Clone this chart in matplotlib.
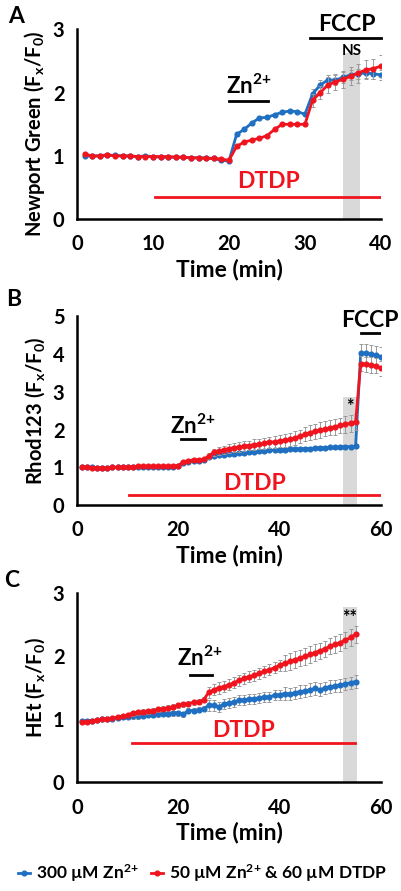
import matplotlib
matplotlib.use("Agg")
import matplotlib.pyplot as plt

plt.rcParams['font.family'] = ['Lato', 'DejaVu Sans']
plt.rcParams['font.weight'] = 'bold'
plt.rcParams['mathtext.fontset'] = 'custom'
plt.rcParams['mathtext.rm'] = 'Lato:bold'
plt.rcParams['mathtext.it'] = 'Lato:bold'
plt.rcParams['mathtext.bf'] = 'Lato:bold'

BLUE = '#1f6fc2'
RED = '#f0141e'
ERR = '#9a9a9a'
ZN = "Zn$^{2{+}}$"

# Panel A - Newport Green
t_a = list(range(1, 41))
blue_a = [1.0, 1.0, 1.0, 1.01, 1.01, 1.0, 1.0, 0.99, 1.0, 0.99, 0.98, 0.98, 0.98, 0.98, 0.97,
          0.97, 0.97, 0.96, 0.93, 0.92, 1.34, 1.42, 1.52, 1.6, 1.61, 1.65, 1.69, 1.71, 1.7, 1.66,
          1.98, 2.12, 2.2, 2.2, 2.24, 2.28, 2.3, 2.31, 2.3, 2.28]
red_a = [1.03, 1.0, 1.0, 1.02, 1.0, 1.0, 1.0, 0.99, 0.99, 0.99, 0.99, 0.99, 0.98, 0.98, 0.97,
         0.97, 0.96, 0.96, 0.95, 0.93, 1.15, 1.22, 1.25, 1.28, 1.32, 1.42, 1.5, 1.5, 1.5, 1.5,
         1.88, 2.0, 2.12, 2.17, 2.21, 2.26, 2.31, 2.36, 2.38, 2.42]
blue_a_err = [0.02] * 30 + [0.08, 0.08, 0.08, 0.08, 0.08, 0.08, 0.08, 0.08, 0.08, 0.08]
red_a_err = [0.02] * 30 + [0.1, 0.1, 0.12, 0.12, 0.13, 0.14, 0.15, 0.15, 0.16, 0.18]

# Panel B - Rhod123
t_b = list(range(1, 61))
blue_b = [1.0, 1.0, 1.0, 0.99, 0.98, 0.98, 1.0, 1.0, 1.0, 1.0, 1.0, 1.01, 1.01, 1.01, 1.01,
          1.01, 1.02, 1.02, 1.02, 1.03, 1.12, 1.15, 1.17, 1.18, 1.2, 1.28, 1.3, 1.32, 1.34, 1.35,
          1.36, 1.38, 1.39, 1.4, 1.42, 1.43, 1.44, 1.45, 1.46, 1.47, 1.47, 1.48, 1.48, 1.49, 1.5,
          1.5, 1.51, 1.52, 1.52, 1.53, 1.53, 1.54, 1.55, 1.55, 1.56, 4.03, 4.02, 4.0, 3.97, 3.93]
red_b = [1.0, 1.0, 0.99, 0.99, 0.98, 0.98, 1.01, 1.0, 1.0, 1.0, 1.02, 1.03, 1.03, 1.03, 1.03,
         1.03, 1.03, 1.03, 1.04, 1.05, 1.15, 1.18, 1.2, 1.2, 1.21, 1.3, 1.4, 1.43, 1.47, 1.5,
         1.52, 1.54, 1.56, 1.58, 1.6, 1.62, 1.64, 1.66, 1.68, 1.7, 1.72, 1.74, 1.78, 1.82, 1.88,
         1.92, 1.96, 1.99, 2.02, 2.05, 2.08, 2.11, 2.14, 2.17, 2.2, 3.75, 3.73, 3.71, 3.69, 3.63]
blue_b_err = [0.02] * 25 + [0.05] * 30 + [0.25, 0.25, 0.25, 0.25, 0.25]
red_b_err = [0.02] * 25 + [0.08, 0.1, 0.1, 0.11, 0.11, 0.12, 0.12, 0.13, 0.13, 0.14, 0.14, 0.15,
                           0.15, 0.16, 0.16, 0.17, 0.17, 0.18, 0.18, 0.19, 0.19, 0.2, 0.2, 0.2,
                           0.2, 0.21, 0.21, 0.22, 0.22, 0.22, 0.2, 0.2, 0.2, 0.2, 0.2]

# Panel C - HEt
t_c = list(range(1, 56))
blue_c = [0.97, 0.98, 0.98, 0.99, 1.0, 1.0, 1.01, 1.02, 1.03, 1.04, 1.05, 1.05, 1.06, 1.07, 1.07,
          1.08, 1.09, 1.09, 1.1, 1.1, 1.08, 1.14, 1.14, 1.15, 1.17, 1.22, 1.22, 1.2, 1.24, 1.26,
          1.28, 1.3, 1.31, 1.32, 1.33, 1.34, 1.35, 1.36, 1.38, 1.39, 1.41, 1.4, 1.42, 1.44, 1.45,
          1.47, 1.49, 1.47, 1.5, 1.52, 1.53, 1.54, 1.56, 1.58, 1.6]
red_c = [0.95, 0.96, 0.97, 0.99, 1.0, 1.01, 1.02, 1.04, 1.05, 1.07, 1.1, 1.11, 1.12, 1.13, 1.14,
         1.16, 1.17, 1.18, 1.2, 1.22, 1.24, 1.25, 1.27, 1.28, 1.31, 1.43, 1.47, 1.5, 1.52, 1.55,
         1.58, 1.62, 1.65, 1.68, 1.7, 1.73, 1.76, 1.79, 1.82, 1.86, 1.89, 1.92, 1.95, 1.97, 2.0,
         2.03, 2.06, 2.09, 2.12, 2.16, 2.19, 2.22, 2.26, 2.3, 2.35]
blue_c_err = [0.02] * 10 + [0.04] * 15 + [0.08] * 15 + [0.1] * 15
red_c_err = [0.02] * 10 + [0.04] * 15 + [0.09] * 15 + [0.13] * 15


def draw_panel(ax, t, blue, red, berr, rerr, ylabel, ylab_y=0.5):
    ax.errorbar(t, blue, yerr=berr, color=BLUE, ecolor=ERR, elinewidth=0.7, capsize=1.2,
                capthick=0.7, lw=2, marker='o', ms=3.4, zorder=3)
    ax.errorbar(t, red, yerr=rerr, color=RED, ecolor=ERR, elinewidth=0.7, capsize=1.2,
                capthick=0.7, lw=2, marker='o', ms=3.4, zorder=4)
    for s in ['top', 'right']:
        ax.spines[s].set_visible(False)
    for s in ['left', 'bottom']:
        ax.spines[s].set_linewidth(1.8)
    ax.tick_params(axis='both', length=0, labelsize=14.5)
    ax.tick_params(axis='x', pad=11)
    ax.tick_params(axis='y', pad=9)
    ax.set_xlabel("Time (min)", fontsize=16.5, fontweight='bold', labelpad=3)
    ax.set_ylabel(ylabel, fontsize=14.5, fontweight='bold')
    ax.yaxis.set_label_coords(-0.098, ylab_y)


fig = plt.figure(figsize=(4.01, 8.91), dpi=100)

# A
ax1 = fig.add_axes([0.192, 0.754, 0.758, 0.213])
ax1.axvspan(35, 37.3, ymin=0, ymax=2.62 / 3, color='#d9d9d9', lw=0, zorder=0)
draw_panel(ax1, t_a, blue_a, red_a, blue_a_err, red_a_err,
           "Newport Green (F$_x$/F$_0$)", 0.45)
ax1.set_xlim(0, 40)
ax1.set_ylim(0, 3)
ax1.set_xticks([0, 10, 20, 30, 40])
ax1.set_yticks([0, 1, 2, 3])
ax1.plot([30.6, 40], [2.87, 2.87], color='black', lw=2, clip_on=False)
ax1.text(35.5, 3.08, "FCCP", ha='center', va='center', fontsize=16.5)
ax1.text(36.1, 2.66, "NS", ha='center', va='center', fontsize=11)
ax1.plot([20, 25.1], [1.87, 1.87], color='black', lw=2)
ax1.text(22.6, 2.1, ZN, ha='center', va='center', fontsize=16)
ax1.plot([10.3, 40], [0.35, 0.35], color=RED, lw=2)
ax1.text(25.2, 0.6, "DTDP", ha='center', va='center', fontsize=16.5, color=RED)
fig.text(0.04, 0.981, "A", fontsize=16.5, ha='center', va='center')

# B
ax2 = fig.add_axes([0.192, 0.433, 0.758, 0.212])
ax2.axvspan(52.6, 55.2, ymin=0, ymax=2.87 / 5, color='#d9d9d9', lw=0, zorder=0)
draw_panel(ax2, t_b, blue_b, red_b, blue_b_err, red_b_err, "Rhod123 (F$_x$/F$_0$)")
ax2.set_xlim(0, 60)
ax2.set_ylim(0, 5)
ax2.set_xticks([0, 20, 40, 60])
ax2.set_yticks([0, 1, 2, 3, 4, 5])
ax2.plot([56, 60], [4.56, 4.56], color='black', lw=2)
ax2.text(57.8, 4.88, "FCCP", ha='center', va='center', fontsize=16.5)
ax2.text(53.9, 2.6, "*", ha='center', va='center', fontsize=13)
ax2.plot([20.6, 25.2], [1.74, 1.74], color='black', lw=2)
ax2.text(22.9, 2.1, ZN, ha='center', va='center', fontsize=16)
ax2.plot([10.3, 60], [0.27, 0.27], color=RED, lw=2)
ax2.text(35.1, 0.57, "DTDP", ha='center', va='center', fontsize=16.5, color=RED)
fig.text(0.033, 0.664, "B", fontsize=16.5, ha='center', va='center')

# C
ax3 = fig.add_axes([0.192, 0.122, 0.758, 0.212])
ax3.axvspan(52.6, 55.2, ymin=0, ymax=2.79 / 3, color='#d9d9d9', lw=0, zorder=0)
draw_panel(ax3, t_c, blue_c, red_c, blue_c_err, red_c_err, "HEt (F$_x$/F$_0$)")
ax3.set_xlim(0, 60)
ax3.set_ylim(0, 3)
ax3.set_xticks([0, 20, 40, 60])
ax3.set_yticks([0, 1, 2, 3])
ax3.text(53.9, 2.62, "**", ha='center', va='center', fontsize=13)
ax3.plot([22.3, 26.7], [1.7, 1.7], color='black', lw=2)
ax3.text(24.2, 1.97, ZN, ha='center', va='center', fontsize=16)
ax3.plot([10.9, 54.9], [0.62, 0.62], color=RED, lw=2)
ax3.text(32.8, 0.82, "DTDP", ha='center', va='center', fontsize=16.5, color=RED)
fig.text(0.03, 0.348, "C", fontsize=16.5, ha='center', va='center')

# legend
h1, = ax3.plot([], [], color=BLUE, lw=2, marker='o', ms=3.4)
h2, = ax3.plot([], [], color=RED, lw=2, marker='o', ms=3.4)
fig.legend([h1, h2], ["300 \u00b5M " + ZN, "50 \u00b5M " + ZN + " & 60 \u00b5M DTDP"],
           loc='center', bbox_to_anchor=(0.505, 0.02), ncol=2, frameon=False,
           fontsize=12.5, handlelength=0.7, handletextpad=0.35, columnspacing=0.7)

fig.savefig("out.png", dpi=100)
